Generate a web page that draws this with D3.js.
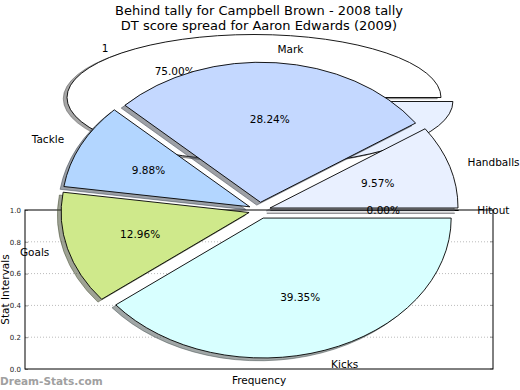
<!DOCTYPE html>
<html><head><meta charset="utf-8">
<script src="https://cdn.jsdelivr.net/npm/d3@7"></script>
<style>body{margin:0;background:#fff;overflow:hidden} text{font-family:"DejaVu Sans",sans-serif}</style>
</head><body><svg id="c" width="520" height="390"></svg>
<script>
const titleLines = ["Behind tally for Campbell Brown - 2008 tally", "DT score spread for Aaron Edwards (2009)"];
// background pie (Campbell Brown)
const backLabels = ["1", ""];
const backValues = [75, 25];
const backColors = ["#ffffff", "#e8f0ff"];
const backExplode = [0, 0.09];
const backShowPct = [true, false];
// front pie (Aaron Edwards)
const categories = ["Hitout", "Handballs", "Mark", "Tackle", "Goals", "Kicks"];
const values = [0.00, 9.57, 28.24, 9.88, 12.96, 39.35];
const colors = ["#f0f0ff", "#e9f0ff", "#c4d8ff", "#b3d6ff", "#cfe98b", "#d8ffff"];
const explode = [0.058, 0.058, 0.058, 0.058, 0.058, 0.058];
const yTicks = [0, 0.2, 0.4, 0.6, 0.8, 1.0];
const xLabel = "Frequency";
const yLabel = "Stat Intervals";
const watermark = "Dream-Stats.com";

const svg = d3.select("#c");

// axes frame
const plot = {l: 25, r: 493, t: 210, b: 369};
const y = d3.scaleLinear().domain([0, 1]).range([plot.b, plot.t]);
const x = d3.scaleLinear().domain([0, 1]).range([plot.l, plot.r]);

const grid = svg.append("g");
grid.selectAll("line.g").data(yTicks.filter(t => t > 0 && t < 1)).join("line")
  .attr("x1", x(0)).attr("x2", x(1)).attr("y1", d => y(d)).attr("y2", d => y(d))
  .attr("stroke", "#bbb").attr("stroke-width", 1).attr("stroke-dasharray", "1,2");
grid.selectAll("line.rt").data(yTicks).join("line")
  .attr("x1", x(1) - 3).attr("x2", x(1)).attr("y1", d => y(d)).attr("y2", d => y(d))
  .attr("stroke", "#999");
const yAxis = d3.axisLeft(y).tickValues(yTicks).tickFormat(d3.format(".1f")).tickSize(-3).tickPadding(4);
const ga = svg.append("g").attr("transform", `translate(${plot.l},0)`).call(yAxis);
ga.select(".domain").remove();
ga.selectAll(".tick line").attr("stroke", "#999");
ga.selectAll(".tick text").attr("font-size", 7).attr("fill", "#222").attr("font-family", "DejaVu Sans");
svg.append("rect").attr("x", plot.l).attr("y", plot.t).attr("width", plot.r - plot.l).attr("height", plot.b - plot.t)
  .attr("fill", "none").attr("stroke", "#000").attr("stroke-width", 1);

svg.append("text").attr("x", (plot.l + plot.r) / 2).attr("y", 384).attr("text-anchor", "middle")
  .attr("font-size", 10.5).text(xLabel);
svg.append("text").attr("transform", `translate(9,${(plot.t + plot.b) / 2}) rotate(-90)`)
  .attr("text-anchor", "middle").attr("font-size", 10.5).text(yLabel);

// titles
svg.selectAll("text.title").data(titleLines).join("text")
  .attr("x", 259).attr("y", (d, i) => 14.5 + i * 15.5).attr("text-anchor", "middle")
  .attr("font-size", 13).attr("fill", "#000").text(d => d);

const arcU = d3.arc().innerRadius(0).outerRadius(1);

function drawPie(vals, cols, expl, cx, cy, rx, ry) {
  const pie = d3.pie().sort(null).startAngle(Math.PI / 2).endAngle(Math.PI / 2 - 2 * Math.PI);
  const arcs = pie(vals);
  const g = svg.append("g");
  const sox = -0.02 * rx, soy = 0.02 * ry;
  arcs.forEach((a, i) => {
    const mid = (a.startAngle + a.endAngle) / 2;
    const dxu = expl[i] * Math.sin(mid), dyu = -expl[i] * Math.cos(mid);
    const c = d3.rgb(cols[i]);
    const sc = d3.rgb(c.r * 0.3, c.g * 0.3, c.b * 0.3);
    g.append("path")
      .attr("transform", `translate(${cx + sox},${cy + soy}) scale(${rx},${ry}) translate(${dxu},${dyu})`)
      .attr("d", arcU(a)).attr("fill", sc).attr("fill-opacity", 0.5)
      .attr("stroke", sc).attr("stroke-opacity", 0.5).attr("stroke-width", 1)
      .attr("vector-effect", "non-scaling-stroke");
    g.append("path")
      .attr("transform", `translate(${cx},${cy}) scale(${rx},${ry}) translate(${dxu},${dyu})`)
      .attr("d", arcU(a)).attr("fill", cols[i]).attr("stroke", "#000").attr("stroke-width", 0.9)
      .attr("vector-effect", "non-scaling-stroke").attr("stroke-linejoin", "round");
  });
  return arcs.map((a, i) => {
    const mid = (a.startAngle + a.endAngle) / 2;
    const s = Math.sin(mid), co = Math.cos(mid);
    return {
      lx: cx + rx * (1.1 + expl[i]) * s, ly: cy - ry * (1.1 + expl[i]) * co,
      px: cx + rx * (0.6 + expl[i]) * s, py: cy - ry * (0.6 + expl[i]) * co,
      anchor: s > 1e-9 ? "start" : "end",
      pct: a.value / d3.sum(vals) * 100
    };
  });
}

function drawLabels(pos, labels, showPct) {
  const g = svg.append("g");
  pos.forEach((p, i) => {
    if (labels[i]) g.append("text").attr("x", p.lx).attr("y", p.ly).attr("text-anchor", p.anchor)
      .attr("dominant-baseline", "central").attr("font-size", 10.5).text(labels[i]);
    if (showPct[i]) g.append("text").attr("x", p.px).attr("y", p.py).attr("text-anchor", "middle")
      .attr("dominant-baseline", "central").attr("font-size", 10.5).text(d3.format(".2f")(p.pct) + "%");
  });
}

const backPos = drawPie(backValues, backColors, backExplode, 254, 97.5, 187, 63);
drawLabels(backPos, backLabels, backShowPct);
const frontPos = drawPie(values, colors, explode, 259.6, 210.4, 188, 140);
drawLabels(frontPos, categories, categories.map(() => true));

svg.append("text").attr("x", 0).attr("y", 385).attr("font-size", 10.5).attr("font-weight", "bold")
  .attr("fill", "#a0a0a0").text(watermark);
</script></body></html>
